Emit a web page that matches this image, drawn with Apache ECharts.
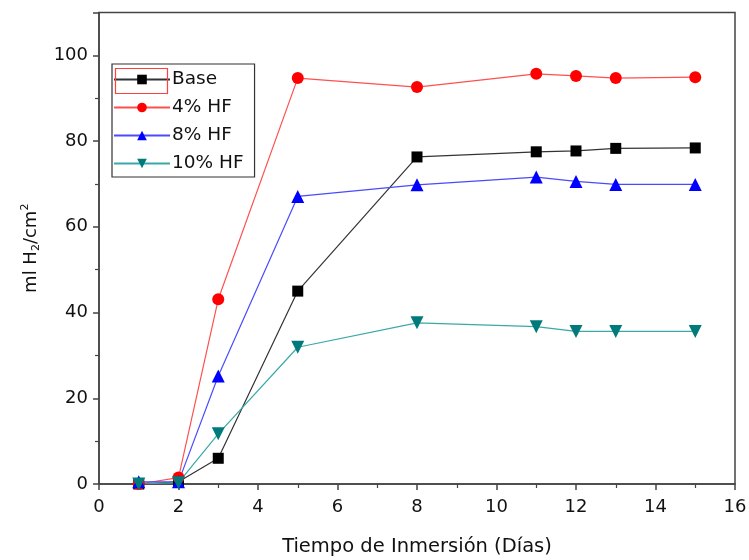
<!DOCTYPE html>
<html>
<head>
<meta charset="utf-8">
<script src="https://cdn.jsdelivr.net/npm/echarts@6/dist/echarts.min.js"></script>
<style>
  html, body { margin: 0; padding: 0; background: #fff; }
  #chart { width: 749px; height: 560px; }
</style>
</head>
<body>
<div id="chart"></div>
<script>
// Immersion time (days)
const dias = [1, 2, 3, 5, 8, 11, 12, 13, 15];

// Hydrogen evolved, ml H2/cm2
const base  = [0.0, 0.5, 6.0, 45.0, 76.3, 77.5, 77.7, 78.3, 78.4];
const hf4   = [0.0, 1.5, 43.1, 94.7, 92.6, 95.7, 95.2, 94.7, 94.9];
const hf8   = [0.5, 0.5, 25.2, 67.1, 69.8, 71.6, 70.6, 69.9, 69.9];
const hf10  = [0.0, 0.3, 11.7, 31.9, 37.6, 36.7, 35.6, 35.6, 35.6];

const seriesNames = ['Base', '4% HF', '8% HF', '10% HF'];
const xTicks = [0, 2, 4, 6, 8, 10, 12, 14, 16];
const yTicks = [0, 20, 40, 60, 80, 100];

const FONT = 'DejaVu Sans, Verdana, sans-serif';
const pairs = (ys) => dias.map((d, i) => [d, ys[i]]);

const downTriangle = 'path://M0,0 L12,0 L6,11 Z';

const chart = echarts.init(document.getElementById('chart'), null, { renderer: 'canvas' });

function mkSeries(name, ys, lineColor, symColor, symbol, size) {
  return {
    name: name,
    type: 'line',
    data: pairs(ys),
    symbol: symbol,
    symbolSize: size,
    showSymbol: true,
    lineStyle: { color: lineColor, width: 1.2 },
    itemStyle: { color: symColor, borderWidth: 0 },
    emphasis: { disabled: true },
    animation: false
  };
}

chart.setOption({
  backgroundColor: '#ffffff',
  animation: false,
  grid: {
    left: 99, right: 14, top: 12.5, bottom: 76,
    outerBoundsMode: 'none',
    containLabel: false,
    show: true, borderColor: '#444', borderWidth: 1.5, backgroundColor: 'transparent'
  },
  xAxis: {
    type: 'value',
    min: 0, max: 16, interval: 2,
    name: 'Tiempo de Inmersión (Días)',
    nameLocation: 'middle',
    nameGap: 53,
    nameTextStyle: { fontFamily: FONT, fontSize: 19.5, color: '#111' },
    axisLine: { show: true, onZero: false, lineStyle: { color: '#444', width: 1.5 } },
    axisTick: { show: true, inside: false, length: 6, lineStyle: { color: '#444', width: 1.5 } },
    minorTick: { show: true, splitNumber: 2, length: 4, lineStyle: { color: '#444', width: 1.2 } },
    axisLabel: {
      fontFamily: FONT, fontSize: 18, color: '#111', margin: 14,
      formatter: (v) => xTicks.includes(v) ? String(v) : ''
    },
    splitLine: { show: false }
  },
  yAxis: {
    type: 'value',
    min: 0, max: 110, interval: 20,
    name: '{a|ml H}{s|2}{a|/cm}{p|2}',
    nameLocation: 'middle',
    nameGap: 52,
    nameRotate: 90,
    nameTextStyle: {
      fontFamily: FONT, fontSize: 18, color: '#111',
      rich: {
        a: { fontFamily: FONT, fontSize: 18, color: '#111', lineHeight: 22 },
        s: { fontFamily: FONT, fontSize: 11, color: '#111', padding: [10, 0, 0, 0], lineHeight: 22 },
        p: { fontFamily: FONT, fontSize: 11, color: '#111', padding: [0, 0, 12, 0], lineHeight: 22 }
      }
    },
    axisLine: { show: true, onZero: false, lineStyle: { color: '#444', width: 1.5 } },
    axisTick: { show: true, inside: false, length: 6, lineStyle: { color: '#444', width: 1.5 } },
    minorTick: { show: true, splitNumber: 2, length: 4, lineStyle: { color: '#444', width: 1.2 } },
    axisLabel: {
      fontFamily: FONT, fontSize: 18, color: '#111', margin: 11,
      formatter: (v) => yTicks.includes(v) ? String(v) : ''
    },
    splitLine: { show: false }
  },
  legend: {
    orient: 'vertical',
    left: 112, top: 64,
    data: seriesNames,
    padding: [6, 11, 4, 1],
    itemGap: 9,
    itemWidth: 56,
    itemHeight: 12,
    borderColor: '#333',
    borderWidth: 1.2,
    backgroundColor: '#fff',
    textStyle: { fontFamily: FONT, fontSize: 18.5, color: '#111', padding: [0, 0, 0, -3] },
    selectedMode: false
  },
  graphic: [{
    type: 'rect',
    left: 113, top: 66,
    shape: { width: 52, height: 25 },
    style: { fill: 'none', stroke: '#ff4040', lineWidth: 1.2 },
    z: 100
  }],
  series: [
    mkSeries('Base', base, '#333333', '#000000', 'rect', 11),
    mkSeries('4% HF', hf4, '#ff5050', '#ff0000', 'circle', 12),
    mkSeries('8% HF', hf8, '#4a4aff', '#0000ff', 'triangle', 13),
    mkSeries('10% HF', hf10, '#3aa8a8', '#007a7a', downTriangle, 13)
  ]
});
</script>
</body>
</html>
